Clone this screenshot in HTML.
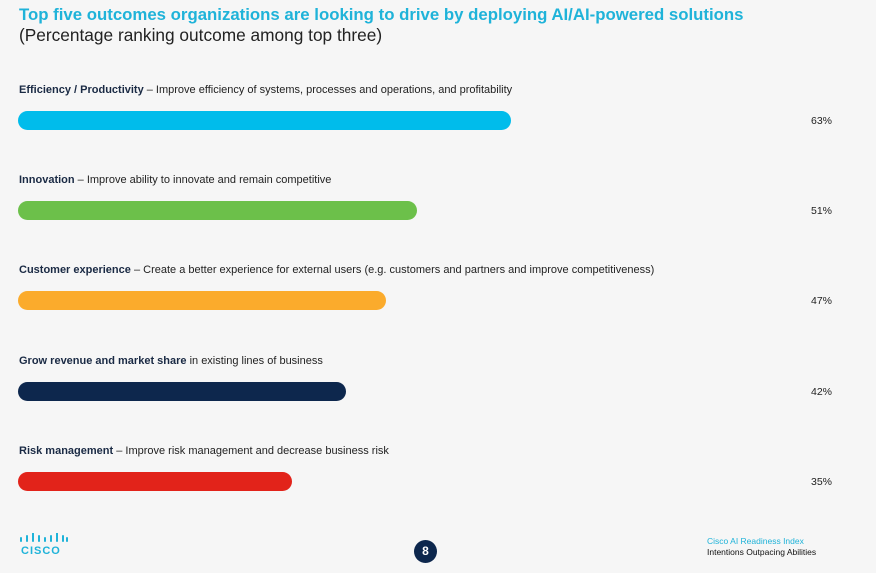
<!DOCTYPE html><html><head><style>
body{margin:0;width:876px;height:573px;background:#f6f6f6;font-family:"Liberation Sans",sans-serif;position:relative;overflow:hidden}
.a{position:absolute;white-space:nowrap}
.t{left:19px;top:5px;font-size:16.8px;font-weight:bold;color:#1fb3d9}
.s{left:19px;top:25px;font-size:17.3px;color:#222}
.l{left:19px;font-size:11px;color:#222}
.l b{font-weight:bold;color:#1a2a44}
.bar{position:absolute;left:18px;height:19px;border-radius:10px}
.p{left:811px;font-size:10.5px;color:#222}
</style></head><body>
<div class="a t">Top five outcomes organizations are looking to drive by deploying AI/AI-powered solutions</div>
<div class="a s">(Percentage ranking outcome among top three)</div>

<div class="a l" style="top:84px"><b>Efficiency / Productivity</b> – Improve efficiency of systems, processes and operations, and profitability</div>
<div class="bar" style="top:111px;width:493px;background:#00bceb"></div>
<div class="a p" style="top:115px">63%</div>

<div class="a l" style="top:174px"><b>Innovation</b> – Improve ability to innovate and remain competitive</div>
<div class="bar" style="top:201px;width:399px;background:#6cc04a"></div>
<div class="a p" style="top:205px">51%</div>

<div class="a l" style="top:264px"><b>Customer experience</b> – Create a better experience for external users (e.g. customers and partners and improve competitiveness)</div>
<div class="bar" style="top:291px;width:368px;background:#fbab2c"></div>
<div class="a p" style="top:295px">47%</div>

<div class="a l" style="top:355px"><b>Grow revenue and market share</b> in existing lines of business</div>
<div class="bar" style="top:382px;width:328px;background:#0d274d"></div>
<div class="a p" style="top:386px">42%</div>

<div class="a l" style="top:445px"><b>Risk management</b> – Improve risk management and decrease business risk</div>
<div class="bar" style="top:472px;width:274px;background:#e2231a"></div>
<div class="a p" style="top:476px">35%</div>

<svg class="a" style="left:20px;top:533px" width="48" height="10"><g stroke="#1fb3d9" stroke-width="2" stroke-linecap="round">
<line x1="1" y1="5" x2="1" y2="8"/><line x1="7" y1="3" x2="7" y2="8"/><line x1="13" y1="0" x2="13" y2="8"/><line x1="19" y1="3" x2="19" y2="8"/><line x1="25" y1="5" x2="25" y2="8"/><line x1="31" y1="3" x2="31" y2="8"/><line x1="37" y1="0" x2="37" y2="8"/><line x1="43" y1="3" x2="43" y2="8"/><line x1="47" y1="5" x2="47" y2="8"/></g></svg>
<div class="a" style="left:21px;top:545px;font-size:11px;font-weight:bold;color:#1fb3d9;letter-spacing:1px">CISCO</div>
<div class="a" style="left:414px;top:540px;width:23px;height:23px;border-radius:50%;background:#0d274d;color:#fff;font-size:12px;font-weight:bold;text-align:center;line-height:23px">8</div>
<div class="a" style="left:707px;top:536px;font-size:8.5px;color:#1fb3d9">Cisco AI Readiness Index</div>
<div class="a" style="left:707px;top:547px;font-size:8.5px;color:#111">Intentions Outpacing Abilities</div>
</body></html>
